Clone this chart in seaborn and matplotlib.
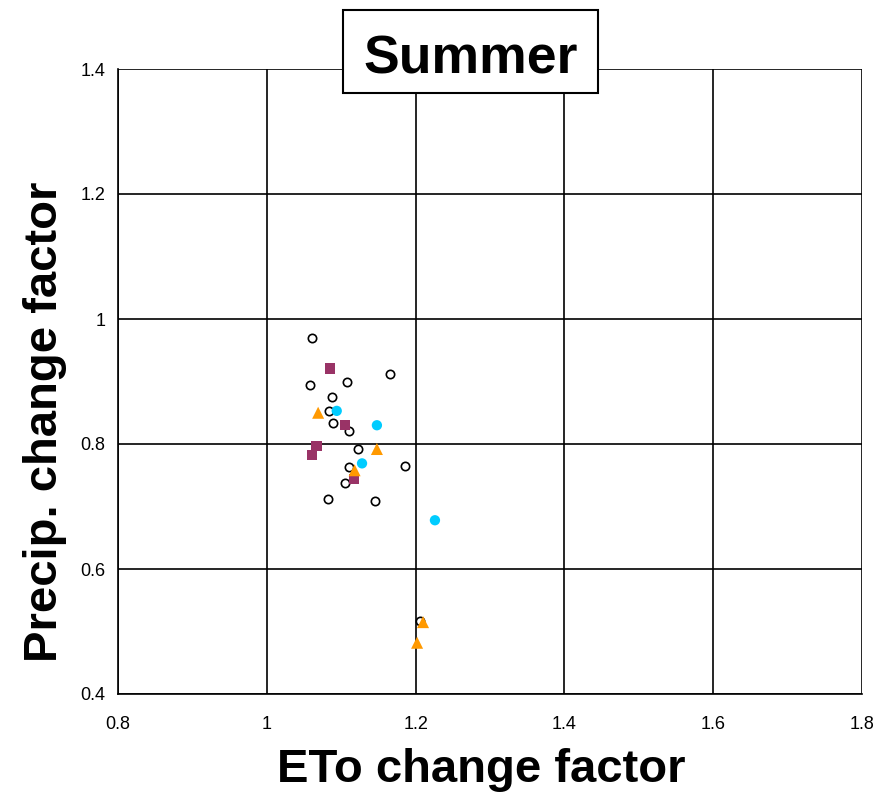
import matplotlib
matplotlib.use("Agg")
import matplotlib.pyplot as plt
from matplotlib.patches import Rectangle
import seaborn as sns
import pandas as pd

sns.set_style("white")
plt.rcParams['font.family'] = ['Liberation Sans', 'DejaVu Sans']
plt.rcParams['text.color'] = 'black'
plt.rcParams['axes.labelcolor'] = 'black'

# Open circles (model runs)
open_x = [1.061, 1.058, 1.108, 1.166, 1.088, 1.084, 1.089, 1.110, 1.123, 1.110, 1.186, 1.105, 1.082, 1.145, 1.206]
open_y = [0.970, 0.894, 0.899, 0.912, 0.875, 0.853, 0.834, 0.821, 0.792, 0.763, 0.765, 0.738, 0.712, 0.709, 0.517]
# Purple squares
sq_x = [1.085, 1.105, 1.067, 1.061, 1.117]
sq_y = [0.921, 0.830, 0.797, 0.782, 0.744]
# Orange triangles
tri_x = [1.069, 1.148, 1.118, 1.210, 1.202]
tri_y = [0.850, 0.792, 0.758, 0.515, 0.482]
# Cyan filled circles
cy_x = [1.094, 1.148, 1.128, 1.226]
cy_y = [0.853, 0.830, 0.769, 0.678]

x_ticks = [0.8, 1.0, 1.2, 1.4, 1.6, 1.8]
x_tick_labels = ["0.8", "1", "1.2", "1.4", "1.6", "1.8"]
y_ticks = [0.4, 0.6, 0.8, 1.0, 1.2, 1.4]
y_tick_labels = ["0.4", "0.6", "0.8", "1", "1.2", "1.4"]

fig = plt.figure(figsize=(8.81, 7.95), dpi=100)
ax = fig.add_axes([118/881, 1-694/795, (862-118)/881, (694-69)/795])

sns.scatterplot(x=open_x, y=open_y, ax=ax, marker="o", s=36, facecolor="white",
                edgecolor="black", linewidth=1.2, zorder=3)
sns.scatterplot(x=sq_x, y=sq_y, ax=ax, marker="s", s=55, color="#993366",
                edgecolor="none", zorder=4)
sns.scatterplot(x=tri_x, y=tri_y, ax=ax, marker="^", s=75, color="#FF9900",
                edgecolor="none", zorder=5)
sns.scatterplot(x=cy_x, y=cy_y, ax=ax, marker="o", s=55, color="#00CCFF",
                edgecolor="none", zorder=4)

ax.set_xlim(0.8, 1.8)
ax.set_ylim(0.4, 1.4)
ax.set_xticks(x_ticks)
ax.set_xticklabels(x_tick_labels, fontsize=13)
ax.set_yticks(y_ticks)
ax.set_yticklabels(y_tick_labels, fontsize=13)
ax.grid(True, color="black", linewidth=1.2)
ax.set_axisbelow(True)
for s in ["top", "right"]:
    ax.spines[s].set_visible(False)
for s in ["left", "bottom"]:
    ax.spines[s].set_color("black")
    ax.spines[s].set_linewidth(1.2)
ax.tick_params(axis="y", direction="out", length=5, width=1, color="black",
               labelcolor="black", pad=4)
ax.tick_params(axis="x", direction="out", length=7, width=1, color="black",
               labelcolor="black", pad=9)

ax.set_xlabel("ETo change factor", fontsize=34, fontweight="bold", color="black")
ax.set_ylabel("Precip. change factor", fontsize=34, fontweight="bold", color="black")
ax.xaxis.label.set_va("center")
ax.yaxis.label.set_va("center")
ax.yaxis.label.set_ha("center")
ax.xaxis.set_label_coords((481-118)/744, -(770-694)/625)
ax.yaxis.set_label_coords((45-118)/744, (694-422)/625)

W, H = 881, 795
fig.patches.append(Rectangle((343/W, 1-93/H), (598-343)/W, (93-10)/H,
                             transform=fig.transFigure, facecolor="white",
                             edgecolor="black", linewidth=1.5, zorder=10))
fig.text(471/W, 1-73/H, "Summer", fontsize=38.5, fontweight="bold",
         ha="center", va="baseline", color="black", zorder=11)

fig.savefig("out.png", dpi=100)
